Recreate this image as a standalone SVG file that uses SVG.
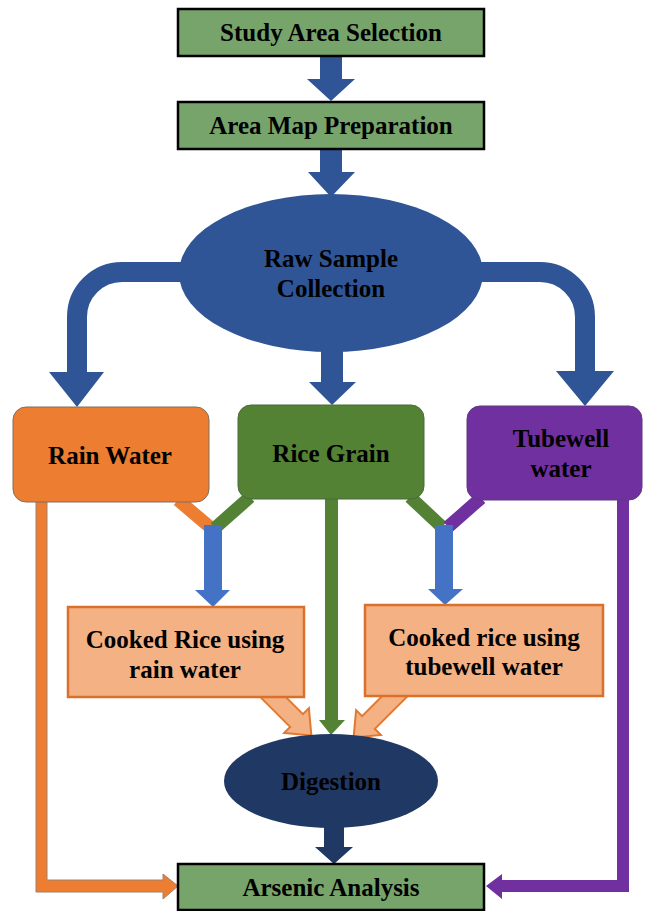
<svg xmlns="http://www.w3.org/2000/svg" width="646" height="911" viewBox="0 0 646 911">
<style>
text{font-family:"Liberation Serif","Times New Roman",serif;font-weight:bold;font-size:25px;fill:#000;text-anchor:middle}
.gbox{fill:#76A46A;stroke:#000;stroke-width:2.5}
.dblue{fill:#2F5597}
.lblue{fill:#4472C4}
.navy{fill:#203864}
.cook{fill:#F4B183;stroke:#D9712C;stroke-width:2.5}
.oarr{fill:#F4B183;stroke:#E2782F;stroke-width:2}
</style>
<rect width="646" height="911" fill="#fff"/>
<g id="connectors">
  <polygon class="dblue" points="320,55 342,55 342,79 355,79 331,101 307,79 320,79"/>
  <polygon class="dblue" points="320,148 342,148 342,172 355,172 331,197 308,172 320,172"/>
  <path d="M200,272 H122 A45,45 0 0 0 77,317 V375" fill="none" stroke="#2F5597" stroke-width="20"/>
  <polygon class="dblue" points="49,372 104,372 77,407"/>
  <path d="M460,272 H540 A45,45 0 0 1 585,317 V375" fill="none" stroke="#2F5597" stroke-width="20"/>
  <polygon class="dblue" points="556,371 614,371 585,406"/>
  <polygon class="dblue" points="321,340 343,340 343,382 356,382 332,405 309,382 321,382"/>
  <line x1="178" y1="500" x2="211" y2="528" stroke="#ED7D31" stroke-width="13"/>
  <line x1="250" y1="497" x2="215" y2="528" stroke="#548235" stroke-width="13"/>
  <line x1="410" y1="497" x2="442" y2="527" stroke="#548235" stroke-width="13"/>
  <line x1="481" y1="498" x2="448" y2="527" stroke="#7030A0" stroke-width="13"/>
  <polygon class="lblue" points="204,525 222,525 222,590 230,590 213,607 195,590 204,590"/>
  <polygon class="lblue" points="435,525 453,525 453,589 463,589 445,605 428,589 435,589"/>
  <polygon points="36,500 47,500 47,880 163,880 163,874 178,886 163,899 163,892 36,892" fill="#ED7D31" stroke="#A0826D" stroke-width="1"/>
  <polygon points="617,499 629,499 629,892 502,892 502,899 486,886 502,874 502,880 617,880" fill="#7030A0"/>
  <polygon points="325,497 338,497 338,720 345,720 331,735 319,720 325,720" fill="#548235"/>
  <polygon class="oarr" transform="translate(264,688) rotate(45)" points="0,-9 46,-9 46,-17.5 67,0 46,17.5 46,9 0,9"/>
  <polygon class="oarr" transform="translate(401,690) rotate(135)" points="0,-9 46,-9 46,-17.5 67,0 46,17.5 46,9 0,9"/>
  <polygon class="navy" points="324,825 344,825 344,847 353,847 334,864 315,847 324,847"/>
</g>
<g id="study-area">
  <rect class="gbox" x="178" y="9" width="306" height="47"/>
  <text x="331" y="41">Study Area Selection</text>
</g>
<g id="area-map">
  <rect class="gbox" x="178" y="102" width="306" height="47"/>
  <text x="331" y="134">Area Map Preparation</text>
</g>
<g id="raw-sample">
  <ellipse cx="331" cy="273" rx="152" ry="79" fill="#2F5597"/>
  <text x="331" y="267">Raw Sample</text>
  <text x="331" y="297">Collection</text>
</g>
<g id="rain-water">
  <rect x="13" y="407" width="196" height="95" rx="13" fill="#ED7D31" stroke="#7F6F62" stroke-width="1"/>
  <text x="110" y="464">Rain Water</text>
</g>
<g id="rice-grain">
  <rect x="238" y="405" width="186" height="94" rx="13" fill="#548235" stroke="#4B6B3A" stroke-width="1"/>
  <text x="331" y="462">Rice Grain</text>
</g>
<g id="tubewell">
  <rect x="467" y="406" width="175" height="94" rx="13" fill="#7030A0" stroke="#5E3A7C" stroke-width="1"/>
  <text x="561" y="447">Tubewell</text>
  <text x="561" y="477">water</text>
</g>
<g id="cooked-rain">
  <rect class="cook" x="68" y="607" width="236" height="90"/>
  <text x="185" y="648">Cooked Rice using</text>
  <text x="185" y="678">rain water</text>
</g>
<g id="cooked-tubewell">
  <rect class="cook" x="365" y="605" width="238" height="91"/>
  <text x="484" y="646">Cooked rice using</text>
  <text x="484" y="675">tubewell water</text>
</g>
<g id="digestion">
  <ellipse cx="331" cy="781" rx="107" ry="47" fill="#203864"/>
  <text x="331" y="790">Digestion</text>
</g>
<g id="arsenic">
  <rect class="gbox" x="178" y="864" width="306" height="46"/>
  <text x="331" y="896">Arsenic Analysis</text>
</g>
</svg>
